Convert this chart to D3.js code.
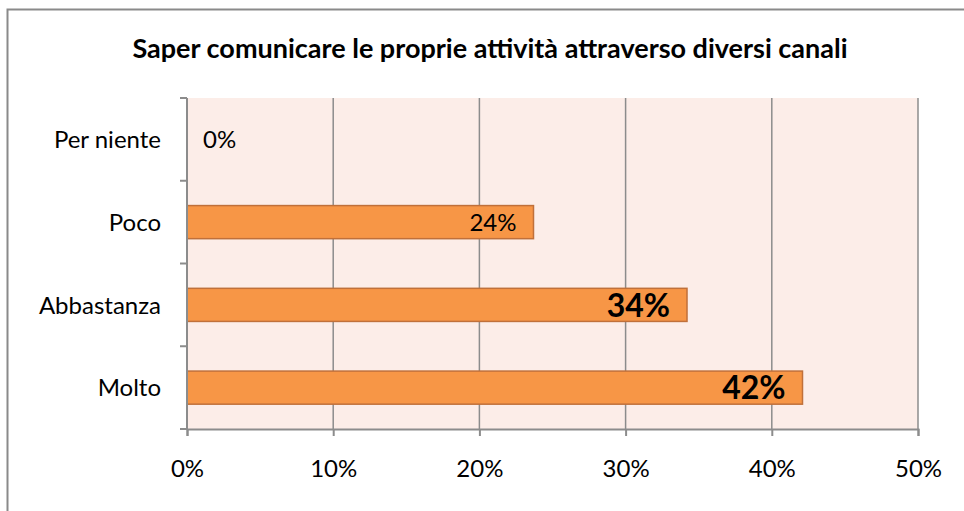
<!DOCTYPE html>
<html>
<head>
<meta charset="utf-8">
<script src="https://cdn.jsdelivr.net/npm/d3@7"></script>
<style>
  body { margin: 0; background: #fff; }
  text { font-family: Lato, "Open Sans", sans-serif; fill: #000; }
</style>
</head>
<body>
<div id="chart"></div>
<script>
// Data
const categories = ['Per niente', 'Poco', 'Abbastanza', 'Molto']
const values = [0, 23.7, 34.2, 42.1]
const labels = ['0%', '24%', '34%', '42%']
const bigLabel = [false, false, true, true]
const xTicks = [0, 10, 20, 30, 40, 50]

const width = 964,
  height = 511
const plot = { left: 187, right: 918, top: 98, bottom: 429 }

const svg = d3.select('#chart')
  .append('svg')
  .attr('width', width)
  .attr('height', height)

// outer chart frame (only top and left edges are visible)
svg.append('path')
  .attr('d', `M7.5,${height} V9.5 H${width}`)
  .attr('fill', 'none')
  .attr('stroke', '#8a8a8a')
  .attr('stroke-width', 2)

svg.append('text')
  .attr('x', 490)
  .attr('y', 58)
  .attr('text-anchor', 'middle')
  .attr('font-weight', 'bold')
  .attr('font-size', 27)
  .text('Saper comunicare le proprie attività attraverso diversi canali')

const xScale = d3.scaleLinear()
  .domain([0, 50])
  .range([plot.left, plot.right])

const yScale = d3.scaleBand()
  .domain(categories)
  .range([plot.top, plot.bottom])
  .paddingInner(0.6)
  .paddingOuter(0.3)

// plot background
svg.append('rect')
  .attr('x', plot.left)
  .attr('y', plot.top)
  .attr('width', plot.right - plot.left)
  .attr('height', plot.bottom - plot.top)
  .attr('fill', '#fcede8')

// vertical gridlines
svg.selectAll('.grid')
  .data(xTicks.slice(1))
  .enter()
  .append('line')
  .attr('x1', d => xScale(d))
  .attr('x2', d => xScale(d))
  .attr('y1', plot.top)
  .attr('y2', plot.bottom)
  .attr('stroke', '#8c8c8c')
  .attr('stroke-width', 1.5)

// bars
svg.selectAll('.bar')
  .data(values)
  .enter()
  .append('rect')
  .attr('x', xScale(0))
  .attr('y', (d, i) => yScale(categories[i]))
  .attr('width', d => xScale(d) - xScale(0))
  .attr('height', yScale.bandwidth())
  .attr('fill', '#f79646')
  .attr('stroke', d => d > 0 ? '#c0703a' : 'none')
  .attr('stroke-width', 1.5)

// x axis
const axisB = d3.axisBottom(xScale)
  .tickValues(xTicks)
  .tickSize(7)
  .tickPadding(24)
  .tickFormat(d => d + '%')

const gx = svg.append('g')
  .attr('transform', `translate(0,${plot.bottom})`)
  .call(axisB)
gx.select('.domain').attr('stroke', '#8c8c8c').attr('stroke-width', 2)
gx.selectAll('.tick line').attr('stroke', '#8c8c8c').attr('stroke-width', 2)
gx.selectAll('.tick text')
  .attr('font-size', 24)
  .attr('font-family', 'Lato, sans-serif')
  .attr('fill', '#000')

// y axis: ticks sit on band boundaries, labels at band centres
const bounds = d3.range(categories.length + 1).map(i => plot.top + i * (plot.bottom - plot.top) / categories.length)
const gy = svg.append('g')
gy.append('line')
  .attr('x1', plot.left).attr('x2', plot.left)
  .attr('y1', plot.top).attr('y2', plot.bottom)
  .attr('stroke', '#8c8c8c').attr('stroke-width', 2)
gy.selectAll('.ytick')
  .data(bounds)
  .enter()
  .append('line')
  .attr('x1', plot.left - 7).attr('x2', plot.left)
  .attr('y1', d => d).attr('y2', d => d)
  .attr('stroke', '#8c8c8c').attr('stroke-width', 2)
gy.selectAll('.ylabel')
  .data(categories)
  .enter()
  .append('text')
  .attr('x', 161)
  .attr('y', d => yScale(d) + yScale.bandwidth() / 2)
  .attr('dy', '0.36em')
  .attr('text-anchor', 'end')
  .attr('font-size', 24)
  .text(d => d)

// data labels (inside end, zero value sits just right of the axis)
svg.selectAll('.dlabel')
  .data(values)
  .enter()
  .append('text')
  .attr('x', d => d > 0 ? xScale(d) - 17 : xScale(0) + 16)
  .attr('y', (d, i) => yScale(categories[i]) + yScale.bandwidth() / 2)
  .attr('dy', (d, i) => bigLabel[i] ? '0.37em' : '0.36em')
  .attr('text-anchor', d => d > 0 ? 'end' : 'start')
  .attr('font-size', (d, i) => bigLabel[i] ? 32 : 24)
  .attr('font-weight', (d, i) => bigLabel[i] ? 'bold' : 'normal')
  .text((d, i) => labels[i])
</script>
</body>
</html>
